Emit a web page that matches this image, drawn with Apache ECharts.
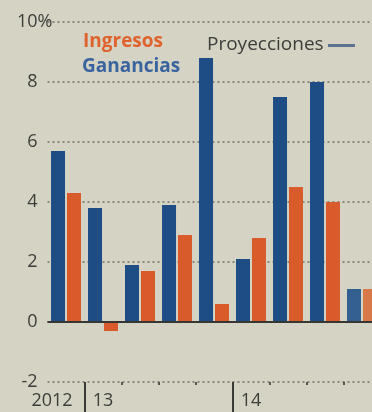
<!DOCTYPE html>
<html>
<head>
<meta charset="utf-8">
<script src="https://cdn.jsdelivr.net/npm/echarts@6/dist/echarts.min.js"></script>
<style>
html,body{margin:0;padding:0;background:#d5d3c4;overflow:hidden;}
#c{width:381px;height:412px;}
</style>
</head>
<body>
<div id="c"></div>
<script>
// Quarters: 2012 Q4 .. 2014 Q4
var categories = ['2012 T4','2013 T1','2013 T2','2013 T3','2013 T4','2014 T1','2014 T2','2014 T3','2014 T4'];
var xTickLabels = ['2012','13','','','','14','','',''];
var ganancias = [5.7, 3.8, 1.9, 3.9, 8.8, 2.1, 7.5, 8.0, 1.1];
var ingresos  = [4.3, -0.3, 1.7, 2.9, 0.6, 2.8, 4.5, 4.0, 1.1];
var yTicks = [-2, 0, 2, 4, 6, 8, 10];
var yTickLabels = ['-2', '0', '2', '4', '6', '8', '10%'];
var seriesNames = ['Ganancias', 'Ingresos'];
var projLabel = 'Proyecciones';
var yearStartIdx = [1, 5];

var BLUE = '#1e4d86', ORANGE = '#d95a2a', TXT = '#3d3d3a', GRID = '#6f6f66';
var FONT = '"Open Sans", "DejaVu Sans", sans-serif';

function yLabel(v) {
  var i = yTicks.indexOf(v);
  return i >= 0 ? yTickLabels[i] : '';
}

var chart = echarts.init(document.getElementById('c'), null, {renderer: 'canvas'});
var option = {
  backgroundColor: '#d5d3c4',
  animation: false,
  grid: {left: 47.5, top: 22, width: 333, height: 360, containLabel: false},
  xAxis: [{
    type: 'category', data: categories, position: 'bottom',
    axisLine: {show: false, onZero: false},
    axisTick: {show: true, length: 3, lineStyle: {color: '#55554f', width: 2},
      interval: function (i) { return i > 0; }},
    axisLabel: {
      interval: 0, margin: 10, color: TXT, fontFamily: FONT, fontSize: 18,
      formatter: function (v, i) {
        var t = xTickLabels[i];
        return i === 0 ? '{a|' + t + '}' : t;
      },
      rich: {a: {padding: [0, 28, 0, 0], color: TXT, fontFamily: FONT, fontSize: 18}}
    },
    splitLine: {show: false}
  }, {
    type: 'category', data: categories, position: 'bottom',
    axisLine: {show: false, onZero: false},
    axisTick: {show: true, length: 30, lineStyle: {color: '#3a3a36', width: 2},
      interval: function (i) { return yearStartIdx.indexOf(i) >= 0; }},
    axisLabel: {show: false},
    splitLine: {show: false}
  }],
  yAxis: [{
    type: 'value', min: -2, max: 10, interval: 2, position: 'left',
    axisLine: {show: false}, axisTick: {show: false},
    axisLabel: {margin: 10, color: TXT, fontFamily: FONT, fontSize: 18,
      formatter: function (v) { return v === 10 ? '' : yLabel(v); }},
    splitLine: {show: true, lineStyle: {color: GRID, type: [2, 3], width: 1.5}}
  }, {
    type: 'value', min: -2, max: 10, interval: 2, position: 'left',
    axisLine: {show: false}, axisTick: {show: false},
    axisLabel: {margin: 30.5, align: 'left', color: TXT, fontFamily: FONT, fontSize: 18,
      formatter: function (v) { return v === 10 ? yLabel(v) : ''; }},
    splitLine: {show: false}
  }],
  series: [{
    name: seriesNames[0], type: 'bar', barWidth: 14, barGap: '14%',
    data: ganancias.map(function (v, i) {
      return i === ganancias.length - 1 ? {value: v, itemStyle: {color: '#34608f'}} : v;
    }),
    itemStyle: {color: BLUE},
    markLine: {silent: true, symbol: 'none', label: {show: false},
      lineStyle: {color: '#363632', type: 'solid', width: 2},
      data: [{yAxis: 0}]}
  }, {
    name: seriesNames[1], type: 'bar', barWidth: 14, barGap: '14%',
    data: ingresos.map(function (v, i) {
      return i === ingresos.length - 1 ? {value: v, itemStyle: {color: '#d8794a'}} : v;
    }),
    itemStyle: {color: ORANGE}
  }],
  graphic: [
    {type: 'text', left: 83, top: 32, style: {text: seriesNames[1], fill: '#e0622c', font: 'bold 19px ' + FONT}},
    {type: 'text', left: 82, top: 57, style: {text: seriesNames[0], fill: '#3a64a0', font: 'bold 19px ' + FONT}},
    {type: 'text', left: 207, top: 35, style: {text: projLabel, fill: '#3d3d3a', font: '19px ' + FONT}},
    {type: 'rect', left: 328, top: 44, shape: {width: 27, height: 3}, style: {fill: '#5d7390'}}
  ]
};
chart.setOption(option);
</script>
</body>
</html>
